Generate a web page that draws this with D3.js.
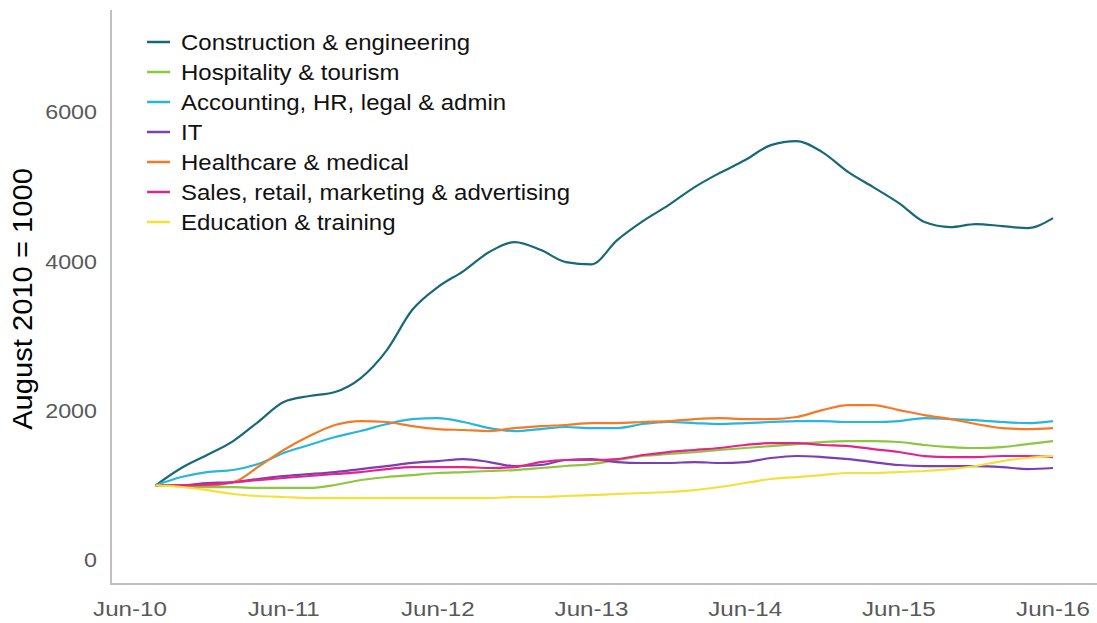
<!DOCTYPE html>
<html>
<head>
<meta charset="utf-8">
<script src="https://cdn.jsdelivr.net/npm/d3@7"></script>
<style>
  body { margin: 0; background: #fff; }
  text { font-family: "Liberation Sans", Arial, sans-serif; }
</style>
</head>
<body>
<div id="chart"></div>
<script>
// months sampled every two months, Aug 2010 .. Jun 2016
var months = ["2010-08","2010-10","2010-12","2011-02","2011-04","2011-06",
              "2011-08","2011-10","2011-12","2012-02","2012-04","2012-06",
              "2012-08","2012-10","2012-12","2013-02","2013-04","2013-06",
              "2013-08","2013-10","2013-12","2014-02","2014-04","2014-06",
              "2014-08","2014-10","2014-12","2015-02","2015-04","2015-06",
              "2015-08","2015-10","2015-12","2016-02","2016-04","2016-06"];

var construction = [1000,1232,1406,1593,1848,2116,2196,2250,2437,2812,3348,3655,
                    3870,4124,4258,4151,3990,3960,4285,4539,4753,4994,5182,5356,
                    5557,5610,5463,5195,4994,4780,4526,4459,4499,4472,4445,4579];
var hospitality = [1000,990,975,975,965,965,965,1004,1071,1111,1138,1165,
                   1178,1192,1205,1232,1259,1285,1339,1393,1420,1446,1473,1500,
                   1526,1553,1580,1593,1593,1580,1540,1513,1500,1513,1553,1593];
var accounting = [1000,1111,1178,1205,1285,1433,1540,1647,1727,1821,1888,1901,
                  1848,1767,1727,1754,1781,1767,1767,1821,1848,1834,1821,1834,
                  1848,1861,1861,1848,1848,1861,1901,1888,1874,1848,1834,1861];
var it = [1000,1000,1030,1045,1085,1125,1150,1178,1218,1258,1300,1325,
          1352,1312,1258,1272,1339,1352,1312,1299,1299,1312,1299,1312,
          1366,1393,1379,1352,1312,1272,1258,1258,1258,1245,1218,1232];
var healthcare = [1000,1000,1000,1040,1245,1473,1660,1808,1861,1848,1794,1754,
                  1741,1727,1767,1794,1808,1834,1834,1848,1861,1888,1901,1888,
                  1888,1915,2008,2075,2075,2008,1941,1888,1821,1767,1754,1767];
var sales = [1000,1000,1010,1040,1071,1098,1125,1152,1178,1218,1245,1245,
             1245,1232,1245,1312,1339,1339,1352,1406,1446,1473,1500,1540,
             1566,1566,1540,1526,1486,1446,1392,1379,1379,1393,1393,1379];
var education = [1000,978,937,884,857,844,830,830,830,830,830,830,
                 830,830,844,844,857,870,884,897,911,937,978,1031,
                 1085,1111,1138,1165,1165,1178,1192,1218,1259,1325,1366,1393];

var seriesNames = ["Construction & engineering","Hospitality & tourism",
                   "Accounting, HR, legal & admin","IT","Healthcare & medical",
                   "Sales, retail, marketing & advertising","Education & training"];
var seriesValues = [construction, hospitality, accounting, it, healthcare, sales, education];
var colors = ["#17697a","#8dc63f","#29b6de","#7b3fb2","#f47a26","#e2258b","#f3e13a"];
var yTicks = [0, 2000, 4000, 6000];
var xTicks = ["2010-06","2011-06","2012-06","2013-06","2014-06","2015-06","2016-06"];

var W = 1097, H = 623;
var parse = d3.timeParse("%Y-%m");
var dates = months.map(parse);

var svg = d3.select("#chart").append("svg")
  .attr("width", W)
  .attr("height", H);

var x = d3.scaleTime()
  .domain([parse("2010-06"), parse("2016-06")])
  .range([130, 1053]);
var y = d3.scaleLinear()
  .domain([0, 6000])
  .range([560, 112]);

// axis lines
svg.append("line")
  .attr("x1", 111).attr("x2", 111)
  .attr("y1", 10).attr("y2", 584)
  .attr("stroke", "#bfbfbf").attr("stroke-width", 2);
svg.append("line")
  .attr("x1", 110).attr("x2", W)
  .attr("y1", 584).attr("y2", 584)
  .attr("stroke", "#bfbfbf").attr("stroke-width", 2);

// y tick labels (text in the source is drawn a little wider than Arial)
svg.selectAll(".ytick")
  .data(yTicks)
  .enter()
  .append("text")
  .attr("transform", function(d) { return "translate(97," + y(d) + ") scale(1.11,1)"; })
  .attr("dy", "0.35em")
  .attr("text-anchor", "end")
  .attr("font-size", "21px")
  .attr("fill", "#595959")
  .text(function(d) { return d; });

// x tick labels
var fmt = d3.timeFormat("%b-%y");
svg.selectAll(".xtick")
  .data(xTicks)
  .enter()
  .append("text")
  .attr("transform", function(d) { return "translate(" + x(parse(d)) + ",616) scale(1.15,1)"; })
  .attr("text-anchor", "middle")
  .attr("font-size", "21px")
  .attr("fill", "#595959")
  .text(function(d) { return fmt(parse(d)); });

// y axis title
svg.append("text")
  .attr("transform", "translate(32,299) rotate(-90) scale(1.06,1)")
  .attr("text-anchor", "middle")
  .attr("font-size", "27.5px")
  .attr("fill", "#000")
  .text("August 2010 = 1000");

// lines
var line = d3.line()
  .x(function(d, i) { return x(dates[i]); })
  .y(function(d) { return y(d); })
  .curve(d3.curveMonotoneX);

svg.selectAll(".series")
  .data(seriesValues)
  .enter()
  .append("path")
  .attr("d", line)
  .attr("fill", "none")
  .attr("stroke", function(d, i) { return colors[i]; })
  .attr("stroke-width", 2.2);

// legend
var legend = svg.selectAll(".legend")
  .data(seriesNames)
  .enter()
  .append("g")
  .attr("transform", function(d, i) { return "translate(147," + (42 + i * 30) + ")"; });
legend.append("line")
  .attr("x1", 0).attr("x2", 23)
  .attr("stroke", function(d, i) { return colors[i]; })
  .attr("stroke-width", 2.5);
legend.append("text")
  .attr("transform", "translate(34,0) scale(1.09,1)")
  .attr("dy", "0.35em")
  .attr("font-size", "22px")
  .attr("fill", "#111")
  .text(function(d) { return d; });
</script>
</body>
</html>
